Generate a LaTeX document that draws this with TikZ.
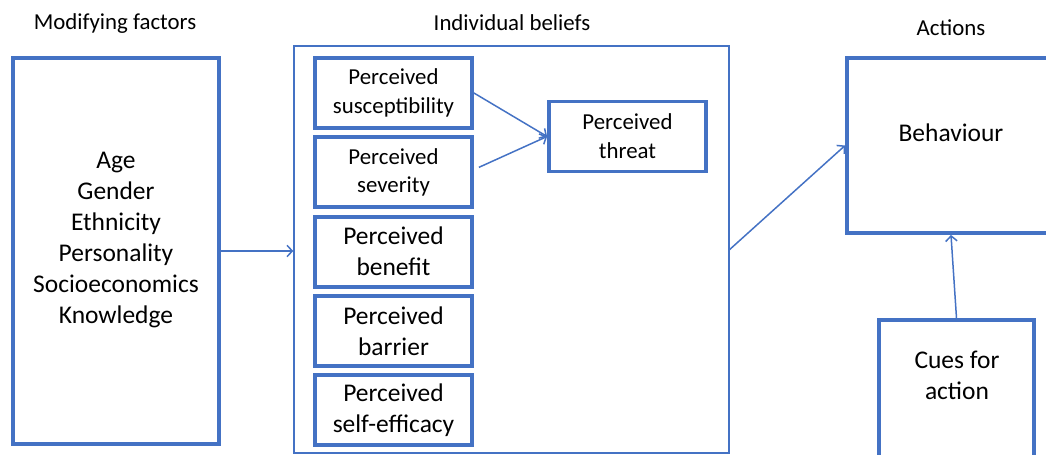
\documentclass[tikz,border=0pt]{standalone}
\usepackage{fontspec}
\setmainfont{Carlito}
\usepackage{tikz}
\usetikzlibrary{positioning, arrows.meta}
\definecolor{hbmblue}{HTML}{4472C4}
\newcommand{\hbmsmall}{\fontsize{13}{16.4}\selectfont}
\newcommand{\hbmlarge}{\fontsize{14.5}{17.6}\selectfont}

\begin{document}
\begin{tikzpicture}[x=0.02cm, y=-0.02cm,
    >={Straight Barb[length=3pt, width=6.5pt]},
    thickbox/.style={draw=hbmblue, line width=2.2pt, minimum width=3.14cm,
      minimum height=1.4cm, align=center, inner sep=0pt},
    thinbox/.style={draw=hbmblue, line width=0.85pt},
    head/.style={font=\hbmsmall, anchor=base},
    link/.style={->, draw=hbmblue, line width=0.85pt}]
  \clip (0,0) rectangle (1046,455);
  % headings
  \node[head] (hmod) at (115,30) {Modifying factors};
  \node[head] (hbel) at (512,31) {Individual beliefs};
  \node[head] (hact) at (951,36) {Actions};
  % modifying factors
  \node[thickbox, minimum width=4.12cm, minimum height=7.72cm] (mod) at (116,251) {};
  \node[font=\hbmlarge, align=center] (modtxt) at (116,240)
    {Age\\Gender\\Ethnicity\\Personality\\Socioeconomics\\Knowledge};
  % individual beliefs
  \node[thinbox, minimum width=8.7cm, minimum height=8.14cm] (bel) at (511.5,249.5) {};
  \node[thickbox, font=\hbmsmall] (sus) at (393.5,93) {Perceived\\susceptibility};
  \node[thickbox, font=\hbmsmall, below=0.11cm of sus] (sev) {Perceived\\severity};
  \node[thickbox, font=\hbmlarge, below=0.11cm of sev] (ben) {Perceived\\benefit};
  \node[thickbox, font=\hbmlarge, below=0.11cm of ben] (bar) {Perceived\\barrier};
  \node[thickbox, font=\hbmlarge, below=0.11cm of bar] (eff) {Perceived\\self-efficacy};
  \node[thickbox, font=\hbmsmall] (thr) at (627.5,136.5) {Perceived\\threat};
  % actions
  \node[thickbox, minimum width=4.16cm, minimum height=3.5cm] (beh) at (951,145.5) {};
  \node[head, font=\hbmlarge] (behtxt) at (951,142) {Behaviour};
  \node[thickbox, minimum width=3.1cm, minimum height=3cm] (cue) at (956.5,395) {};
  \node[font=\hbmlarge, align=center] (cuetxt) at (957,375) {Cues for\\action};
  % links
  \draw[link] (mod.east) -- (mod.east -| bel.west);
  \draw[link] (sus.east) -- (thr.west);
  \draw[link] ([shift={(5,-5)}]sev.east) -- (thr.west);
  \draw[link] (bel.east) -- (beh.west);
  \draw[link] (cue.north) -- (beh.south);
\end{tikzpicture}
\end{document}
